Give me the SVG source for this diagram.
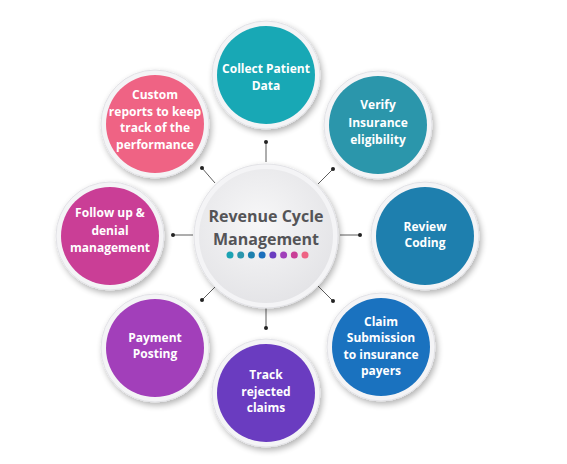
<svg xmlns="http://www.w3.org/2000/svg" width="567" height="464" viewBox="0 0 567 464">
<defs>
<style>
.ring{fill:#f4f4f6;stroke:#e2e2e6;stroke-width:1}
.lbl{font-family:"Open Sans","Liberation Sans",sans-serif;font-weight:700;font-size:12px;fill:#ffffff;text-anchor:middle}
.title{font-family:"Open Sans","Liberation Sans",sans-serif;font-weight:700;font-size:16px;fill:#545457;text-anchor:middle}
.con{stroke:#333;stroke-width:0.8;fill:none}
.dot{fill:#222}
</style>
<filter id="sh" x="-30%" y="-30%" width="160%" height="160%">
<feGaussianBlur in="SourceAlpha" stdDeviation="3"/>
<feOffset dx="2" dy="3" result="b"/>
<feComponentTransfer><feFuncA type="linear" slope="0.3"/></feComponentTransfer>
<feMerge><feMergeNode/><feMergeNode in="SourceGraphic"/></feMerge>
</filter>
<radialGradient id="cg" cx="45%" cy="40%" r="65%">
<stop offset="0" stop-color="#f7f7f8"/>
<stop offset="1" stop-color="#e3e3e6"/>
</radialGradient>
</defs>
<rect width="567" height="464" fill="#ffffff"/>
<g id="connectors">
<line class="con" x1="266" y1="142" x2="266" y2="162"/>
<line class="con" x1="333" y1="169" x2="318" y2="184"/>
<line class="con" x1="360" y1="235" x2="340" y2="235"/>
<line class="con" x1="333" y1="301" x2="318" y2="286"/>
<line class="con" x1="266" y1="328" x2="266" y2="308"/>
<line class="con" x1="202" y1="300" x2="216" y2="286"/>
<line class="con" x1="173" y1="235" x2="193" y2="235"/>
<line class="con" x1="202" y1="168" x2="215" y2="183"/>
<circle class="dot" cx="266" cy="142" r="2"/>
<circle class="dot" cx="333" cy="169" r="2"/>
<circle class="dot" cx="360" cy="235" r="2"/>
<circle class="dot" cx="333" cy="301" r="2"/>
<circle class="dot" cx="266" cy="328" r="2"/>
<circle class="dot" cx="202" cy="300" r="2"/>
<circle class="dot" cx="173" cy="235" r="2"/>
<circle class="dot" cx="202" cy="168" r="2"/>
</g>
<g id="center">
<circle cx="266" cy="236" r="72" class="ring" filter="url(#sh)"/>
<circle cx="266" cy="236" r="67" fill="url(#cg)"/>
<text class="title" x="266" y="222">Revenue Cycle</text>
<text class="title" x="266" y="245">Management</text>
<circle cx="230" cy="255" r="3.5" fill="#1ba3b3"/>
<circle cx="240.7" cy="255" r="3.5" fill="#2b96ad"/>
<circle cx="251.4" cy="255" r="3.5" fill="#1d80ae"/>
<circle cx="262.1" cy="255" r="3.5" fill="#1c6fbc"/>
<circle cx="272.9" cy="255" r="3.5" fill="#6a3dc0"/>
<circle cx="283.6" cy="255" r="3.5" fill="#a040ba"/>
<circle cx="294.3" cy="255" r="3.5" fill="#c93f97"/>
<circle cx="305" cy="255" r="3.5" fill="#ee6384"/>
</g>
<g id="collect">
<circle cx="266" cy="75" r="54" class="ring" filter="url(#sh)"/>
<circle cx="266" cy="75" r="49" fill="#18a8b5"/>
<text class="lbl" x="266" y="73">Collect Patient</text>
<text class="lbl" x="266" y="90">Data</text>
</g>
<g id="verify">
<circle cx="378" cy="125" r="54" class="ring" filter="url(#sh)"/>
<circle cx="378" cy="125" r="49" fill="#2b96ab"/>
<text class="lbl" x="378" y="109">Verify</text>
<text class="lbl" x="378" y="127">Insurance</text>
<text class="lbl" x="378" y="144">eligibility</text>
</g>
<g id="review">
<circle cx="425" cy="236" r="54" class="ring" filter="url(#sh)"/>
<circle cx="425" cy="236" r="49" fill="#1e7fae"/>
<text class="lbl" x="425" y="231">Review</text>
<text class="lbl" x="425" y="247">Coding</text>
</g>
<g id="claim">
<circle cx="381" cy="347" r="54" class="ring" filter="url(#sh)"/>
<circle cx="381" cy="347" r="49" fill="#1a72bf"/>
<text class="lbl" x="381" y="326">Claim</text>
<text class="lbl" x="381" y="342">Submission</text>
<text class="lbl" x="381" y="359">to insurance</text>
<text class="lbl" x="381" y="375">payers</text>
</g>
<g id="track">
<circle cx="266" cy="393" r="54" class="ring" filter="url(#sh)"/>
<circle cx="266" cy="393" r="49" fill="#6a3cc0"/>
<text class="lbl" x="266" y="379">Track</text>
<text class="lbl" x="266" y="396">rejected</text>
<text class="lbl" x="266" y="412">claims</text>
</g>
<g id="payment">
<circle cx="155" cy="348" r="54" class="ring" filter="url(#sh)"/>
<circle cx="155" cy="348" r="49" fill="#a23fba"/>
<text class="lbl" x="155" y="342">Payment</text>
<text class="lbl" x="155" y="358">Posting</text>
</g>
<g id="followup">
<circle cx="110" cy="236" r="54" class="ring" filter="url(#sh)"/>
<circle cx="110" cy="236" r="49" fill="#ca3e96"/>
<text class="lbl" x="110" y="217">Follow up &amp;</text>
<text class="lbl" x="110" y="235">denial</text>
<text class="lbl" x="110" y="252">management</text>
</g>
<g id="custom">
<circle cx="155" cy="124" r="54" class="ring" filter="url(#sh)"/>
<circle cx="155" cy="124" r="49" fill="#ef6384"/>
<text class="lbl" x="155" y="99">Custom</text>
<text class="lbl" x="155" y="116">reports to keep</text>
<text class="lbl" x="155" y="132">track of the</text>
<text class="lbl" x="155" y="149">performance</text>
</g>
</svg>
